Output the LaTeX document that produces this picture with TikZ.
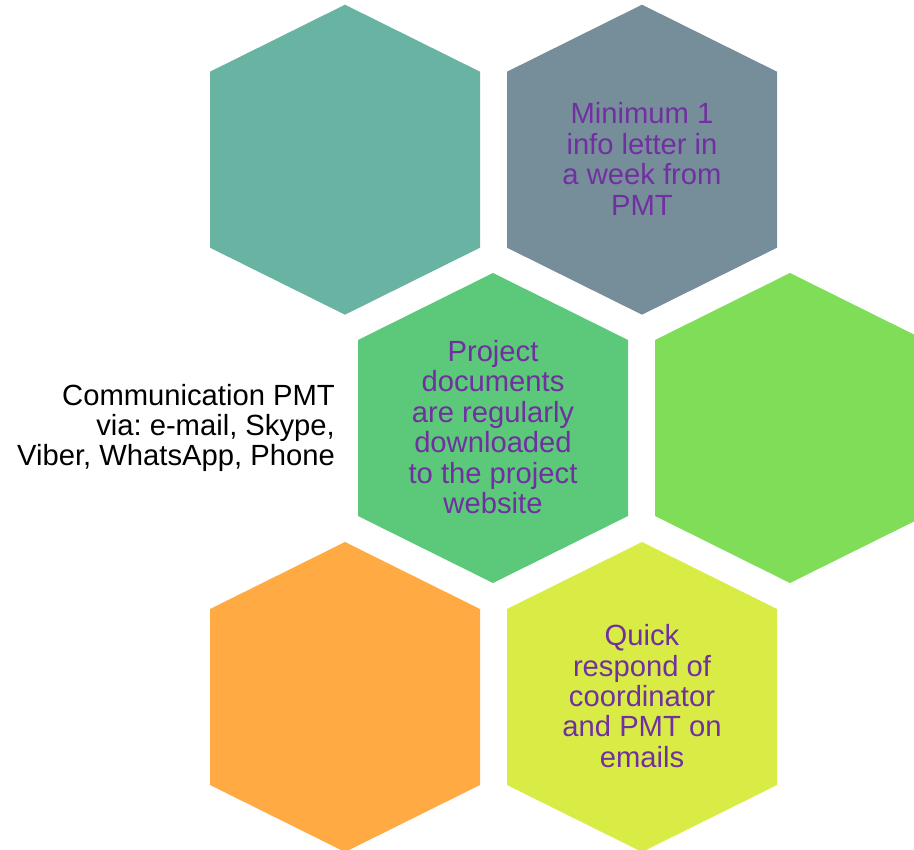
\documentclass[tikz,border=0pt]{standalone}
\usepackage{fontspec}
\setmainfont{Liberation Sans}
\frenchspacing
\definecolor{hteal}{HTML}{69B3A2}
\definecolor{hgray}{HTML}{768E9A}
\definecolor{hgreen}{HTML}{5CC879}
\definecolor{hlime}{HTML}{80DD57}
\definecolor{horange}{HTML}{FFAA42}
\definecolor{hyellow}{HTML}{D9EC46}
\definecolor{tpurple}{HTML}{7030A0}
\tikzset{
  hextext/.style={align=center, text=tpurple, font=\fontsize{29.2}{30.4}\selectfont, inner sep=0pt},
  sidetext/.style={align=right, text=black, font=\fontsize{29.2}{30.4}\selectfont, inner sep=0pt},
  hexa/.pic={\fill (0,-155) -- (135,-88) -- (135,88) -- (0,155) -- (-135,88) -- (-135,-88) -- cycle;}
}
\begin{document}
\begin{tikzpicture}[x=1pt,y=-1pt]
\useasboundingbox (0,0) rectangle (914,850);
\begin{scope}
\clip (0,0) rectangle (914,850);
\pic[fill=hteal] at (345,159.7) {hexa};
\pic[fill=hgray] at (642,159.7) {hexa};
\pic[fill=hgreen] at (493,428) {hexa};
\pic[fill=hlime] at (790,428) {hexa};
\pic[fill=horange] at (345,697) {hexa};
\pic[fill=hyellow] at (642,697) {hexa};
\end{scope}
\node[hextext] (t1) at (642,159) {Minimum 1\\info letter in\\a week from\\PMT};
\node[hextext] (t2) at (493,427) {Project\\documents\\are regularly\\downloaded\\to the project\\website};
\node[hextext] (t3) at (642,696) {Quick\\respond of\\coordinator\\and PMT on\\emails};
\node[sidetext, anchor=east] (side) at (335,428) {Communication PMT\\via: e-mail, Skype,\\Viber, WhatsApp, Phone};
\end{tikzpicture}
\end{document}
